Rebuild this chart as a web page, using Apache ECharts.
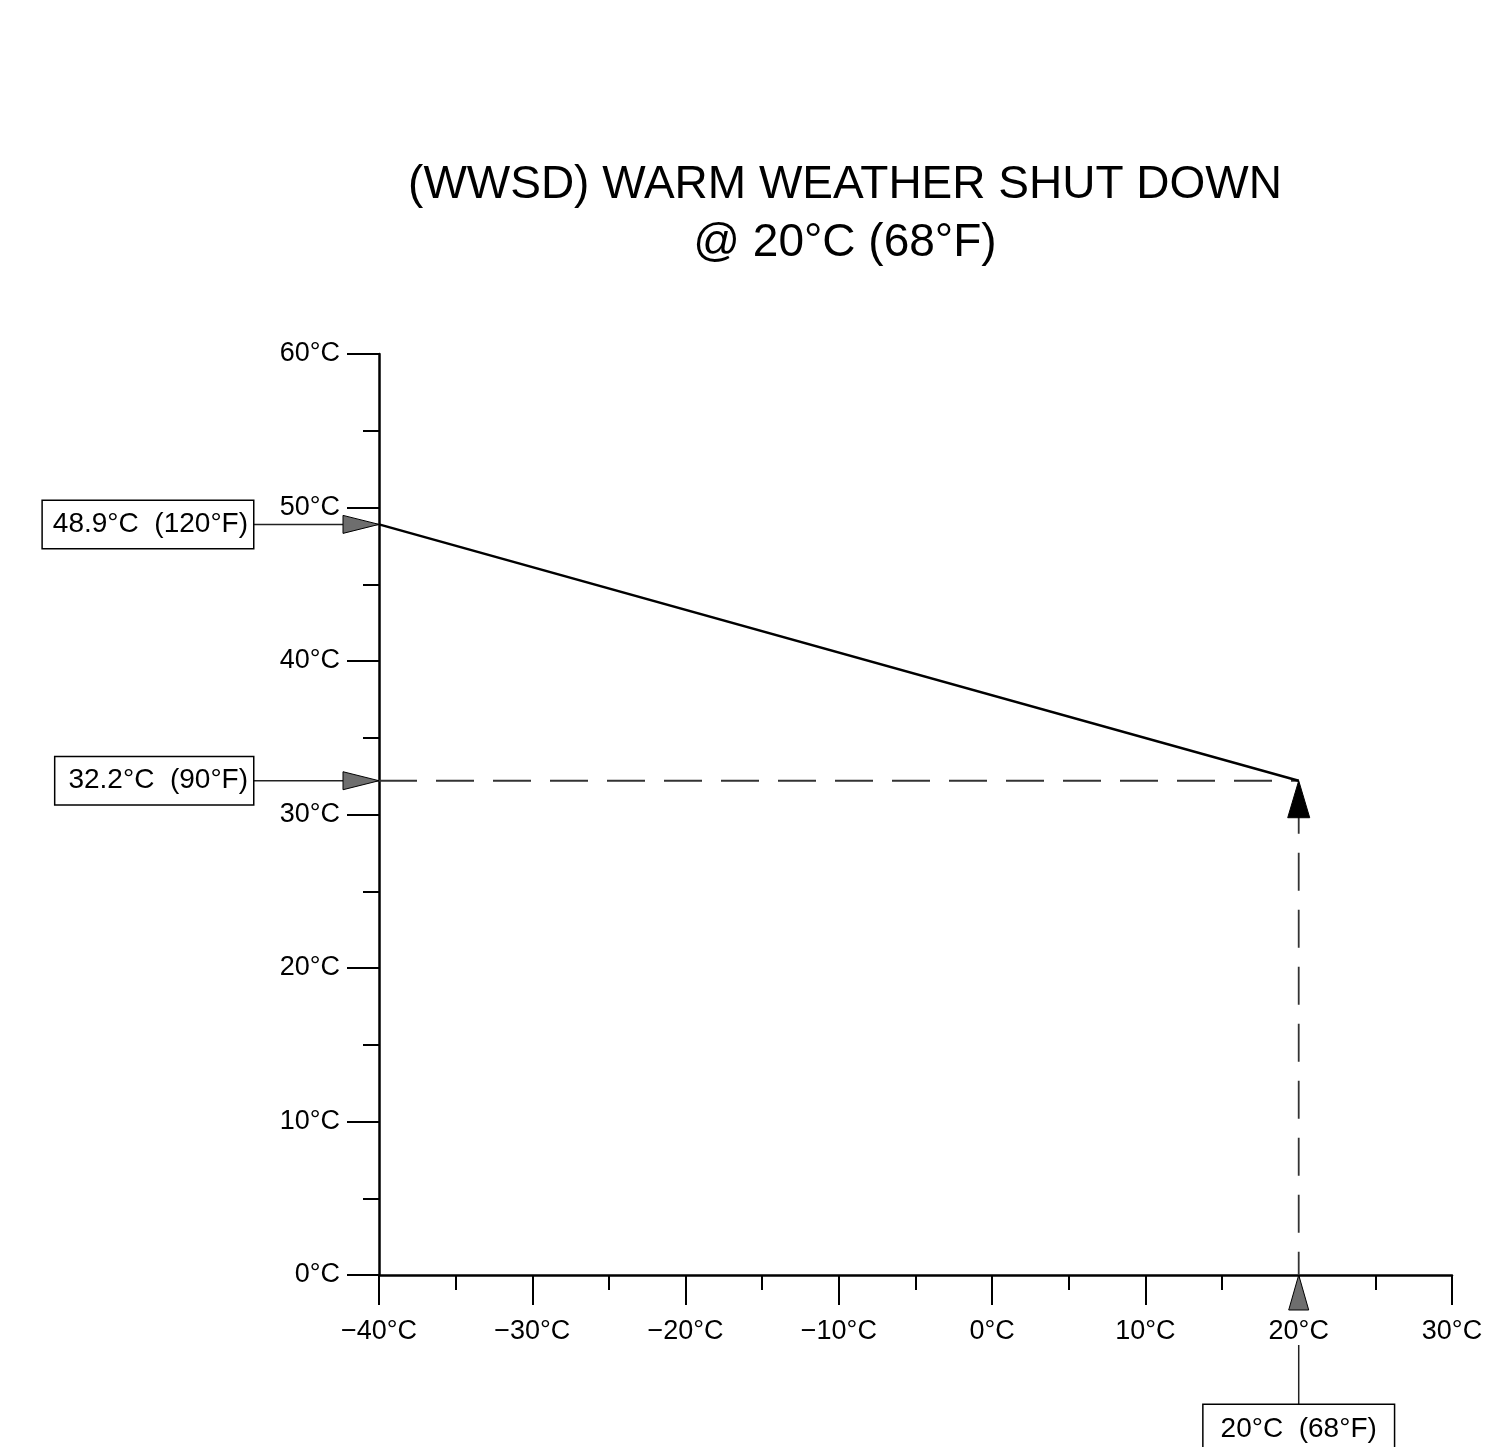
<!DOCTYPE html>
<html>
<head>
<meta charset="utf-8">
<script src="https://cdn.jsdelivr.net/npm/echarts@6/dist/echarts.min.js"></script>
<style>
html,body{margin:0;padding:0;background:#fff;}
#chart{width:1495px;height:1447px;}
</style>
</head>
<body>
<div id="chart"></div>
<script>
// ---- data ----
const titleLines = ['(WWSD) WARM WEATHER SHUT DOWN', '@ 20°C (68°F)'];
const xRange = [-40, 30];
const yRange = [0, 60];
const tickStep = 10;
const resetLine = [[-40, 48.9], [20, 32.2]];          // supply temp vs outdoor temp
const wwsdHorizontal = [[-40, 32.2], [20, 32.2]];
const wwsdVertical = [[20, 32.2], [20, 0]];
const sideLabels = ['48.9°C  (120°F)', '32.2°C  (90°F)'];
const sidePoints = [[-40, 48.9], [-40, 32.2]];
const bottomLabels = ['20°C  (68°F)'];
const bottomPoints = [[20, 0]];
const shutdownPoint = [[20, 32.2]];

const FONT = '"Liberation Sans", Arial, sans-serif';
function fmt(v){ return (v < 0 ? '\u2212' + Math.abs(v) : v) + '°C'; }

const chart = echarts.init(document.getElementById('chart'), null, {renderer:'canvas'});

const option = {
  backgroundColor: '#fff',
  animation: false,
  title: {
    text: titleLines.join('\n'),
    left: 840, top: 151, textAlign: 'center',
    textStyle: { fontFamily: FONT, fontSize: 46, fontWeight: 'normal', color: '#000', lineHeight: 58 }
  },
  grid: { left: 379, top: 354, right: 43, bottom: 172, containLabel: false },
  xAxis: {
    type: 'value', min: xRange[0], max: xRange[1], interval: tickStep,
    axisLine: { show: true, onZero: false, lineStyle: { color: '#000', width: 2.5 } },
    axisTick: { show: true, inside: false, length: 30, lineStyle: { color: '#000', width: 2 } },
    minorTick: { show: true, splitNumber: 2, length: 15, lineStyle: { color: '#000', width: 2 } },
    splitLine: { show: false },
    axisLabel: { margin: 43, fontFamily: FONT, fontSize: 27, color: '#000', formatter: fmt, showMinLabel: true, showMaxLabel: true }
  },
  yAxis: {
    type: 'value', min: yRange[0], max: yRange[1], interval: tickStep,
    axisLine: { show: true, onZero: false, lineStyle: { color: '#000', width: 2.5 } },
    axisTick: { show: true, inside: false, length: 32, lineStyle: { color: '#000', width: 2 } },
    minorTick: { show: true, splitNumber: 2, length: 16, lineStyle: { color: '#000', width: 2 } },
    splitLine: { show: false },
    axisLabel: { margin: 39, fontFamily: FONT, fontSize: 27, color: '#000', formatter: fmt, showMinLabel: true, showMaxLabel: true }
  },
  series: [
    {
      type: 'line', data: wwsdHorizontal, symbol: 'none', z: 3,
      lineStyle: { color: '#333', width: 1.8, type: [38, 19] }
    },
    {
      type: 'line', data: wwsdVertical, symbol: 'none', z: 3,
      lineStyle: { color: '#333', width: 1.8, type: [38, 19], dashOffset: -15 }
    },
    {
      type: 'line', data: resetLine, symbol: 'none', z: 4,
      lineStyle: { color: '#000', width: 2.5 }
    },
    {
      // side annotations: leader, grey arrow and boxed label
      type: 'custom', coordinateSystem: 'cartesian2d', clip: false, z: 6,
      data: sidePoints,
      renderItem: function (params, api) {
        const p = api.coord([api.value(0), api.value(1)]);
        const lab = sideLabels[params.dataIndex];
        const padX = params.dataIndex === 0 ? 6 : 9;
        return { type: 'group', children: [
          { type: 'line', shape: { x1: p[0] - 126, y1: p[1], x2: p[0], y2: p[1] },
            style: { stroke: '#222', lineWidth: 1.5 } },
          { type: 'polygon', shape: { points: [[p[0], p[1]], [p[0] - 36, p[1] - 9], [p[0] - 36, p[1] + 9]] },
            style: { fill: '#6e6e6e', stroke: '#000', lineWidth: 1 } },
          { type: 'text', style: {
              text: lab, x: p[0] - 126, y: p[1], align: 'right', verticalAlign: 'middle',
              font: '28px ' + FONT, fill: '#000',
              backgroundColor: '#fff', borderColor: '#000', borderWidth: 1.5,
              padding: [11, 5, 8, padX + 4] } }
        ] };
      }
    },
    {
      // bottom annotation
      type: 'custom', coordinateSystem: 'cartesian2d', clip: false, z: 6,
      data: bottomPoints,
      renderItem: function (params, api) {
        const p = api.coord([api.value(0), api.value(1)]);
        const lab = bottomLabels[params.dataIndex];
        return { type: 'group', children: [
          { type: 'polygon', shape: { points: [[p[0], p[1]], [p[0] - 10, p[1] + 35], [p[0] + 10, p[1] + 35]] },
            style: { fill: '#6e6e6e', stroke: '#000', lineWidth: 1 } },
          { type: 'line', shape: { x1: p[0], y1: p[1] + 70, x2: p[0], y2: p[1] + 130 },
            style: { stroke: '#222', lineWidth: 1.5 } },
          { type: 'text', style: {
              text: lab, x: p[0], y: p[1] + 130, align: 'center', verticalAlign: 'top',
              font: '28px ' + FONT, fill: '#000',
              backgroundColor: '#fff', borderColor: '#000', borderWidth: 1.5,
              padding: [10, 17, 8, 17] } }
        ] };
      }
    },
    {
      // shutdown point arrow
      type: 'custom', coordinateSystem: 'cartesian2d', clip: false, z: 7,
      data: shutdownPoint,
      renderItem: function (params, api) {
        const p = api.coord([api.value(0), api.value(1)]);
        return { type: 'polygon', shape: { points: [[p[0], p[1]], [p[0] - 11, p[1] + 37], [p[0] + 11, p[1] + 37]] },
          style: { fill: '#000', stroke: '#000', lineWidth: 1 } };
      }
    }
  ]
};
chart.setOption(option);
</script>
</body>
</html>
